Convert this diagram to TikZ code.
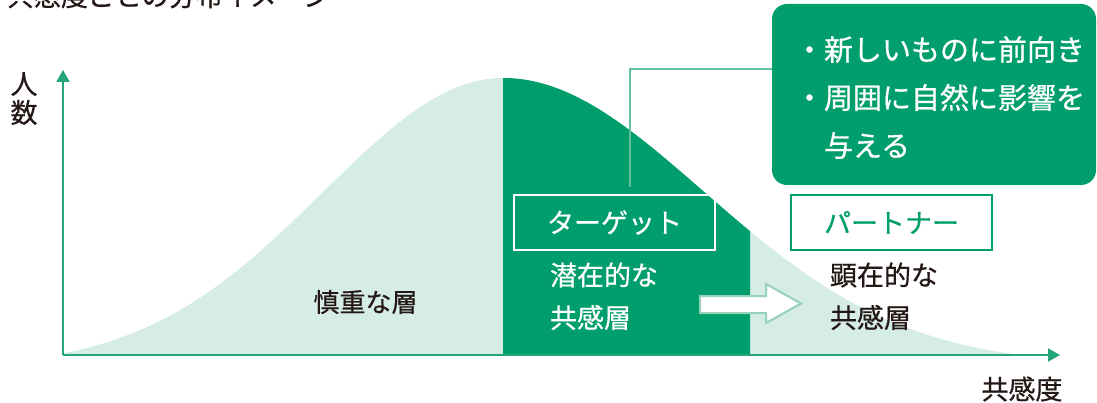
\documentclass[tikz,border=0pt]{standalone}
\usepackage{fontspec}
\newfontfamily\jp{Noto Sans CJK JP}[FakeBold=0.6]
\usetikzlibrary{arrows.meta}
\definecolor{dkgreen}{RGB}{0,158,108}
\definecolor{lightfill}{RGB}{214,236,231}
\definecolor{axisgreen}{RGB}{38,166,120}
\definecolor{conngreen}{RGB}{100,192,156}
\definecolor{arrowgreen}{RGB}{150,210,185}
\definecolor{txt}{RGB}{35,24,21}
\begin{document}
\begin{tikzpicture}[x=1pt,y=-1pt,
  every node/.style={inner sep=0pt, outer sep=0pt},
  lbl/.style={font=\jp\fontsize{27}{29}\selectfont, text=txt},
  lblw/.style={font=\jp\fontsize{27}{29}\selectfont, text=white},
  axisline/.style={draw=axisgreen, line width=2pt, -{Triangle[width=13pt,length=12pt]}},
  conn/.style={draw=conngreen, line width=1.5pt},
  labelbox/.style={line width=2pt, minimum width=201pt, minimum height=55pt, font=\jp\fontsize{27}{29}\selectfont},
]
\useasboundingbox (0,0) rectangle (1097,403);
% distribution
\fill[lightfill] (63,355)
  -- plot[domain=63:503,samples=100] (\x,{355-277*(exp(-0.5*((\x-503)/180)*((\x-503)/180))-0.045)/0.955})
  -- plot[domain=503:1018,samples=100] (\x,{355-277*(exp(-0.5*((\x-503)/200)*((\x-503)/200))-0.035)/0.965})
  -- (1018,355) -- cycle;
\fill[dkgreen] (503,355)
  -- plot[domain=503:750,samples=60] (\x,{355-277*(exp(-0.5*((\x-503)/200)*((\x-503)/200))-0.035)/0.965})
  -- (750,355) -- cycle;
% axes
\coordinate (O) at (63,355);
\coordinate (ytip) at (63,70);
\coordinate (xtip) at (1060,355);
\draw[axisline] (O) -- (ytip);
\draw[axisline] (O) -- (xtip);
% top callout
\node[fill=dkgreen, rounded corners=15pt, minimum width=324pt, minimum height=181pt] (topbox) at (934,94.5) {};
\node[anchor=west, align=left, text=white, font=\jp\fontsize{29}{48}\selectfont] (toptext) at (795,97.5)
  {・新しいものに前向き\\・周囲に自然に影響を\\\hspace*{1em}与える};
% label boxes
\node[labelbox, draw=white, text=white] (target) at (614.5,222.5) {ターゲット};
\node[labelbox, draw=dkgreen, fill=white, text=dkgreen] (partner) at (891.5,222.5) {パートナー};
% connector
\coordinate (elbow) at (630,69);
\draw[conn, shorten >=8pt] (topbox.west |- elbow) -- (elbow) -- (elbow |- target.north);
% texts
\node[lblw, anchor=west] (latent1) at (550,275) {潜在的な};
\node[lblw, anchor=west] (latent2) at (550,317.5) {共感層};
\node[lbl, anchor=west] (overt1) at (830,275) {顕在的な};
\node[lbl, anchor=west] (overt2) at (830,317.5) {共感層};
\node[lbl, font=\jp\fontsize{26}{28}\selectfont] (careful) at (365.5,302) {慎重な層};
\node[lbl] (ylab1) at (24,84) {人};
\node[lbl] (ylab2) at (24,112.5) {数};
\node[lbl] (xlab) at (1022,389) {共感度};
\node[lbl, anchor=base west] (title) at (7,6) {共感度ごとの分布イメージ};
% block arrow
\draw[draw=arrowgreen, fill=white, line width=2pt, line join=miter]
  (700,296) -- (766,296) -- (766,284) -- (801,303.5) -- (766,323) -- (766,313) -- (700,313) -- cycle;
\end{tikzpicture}
\end{document}
